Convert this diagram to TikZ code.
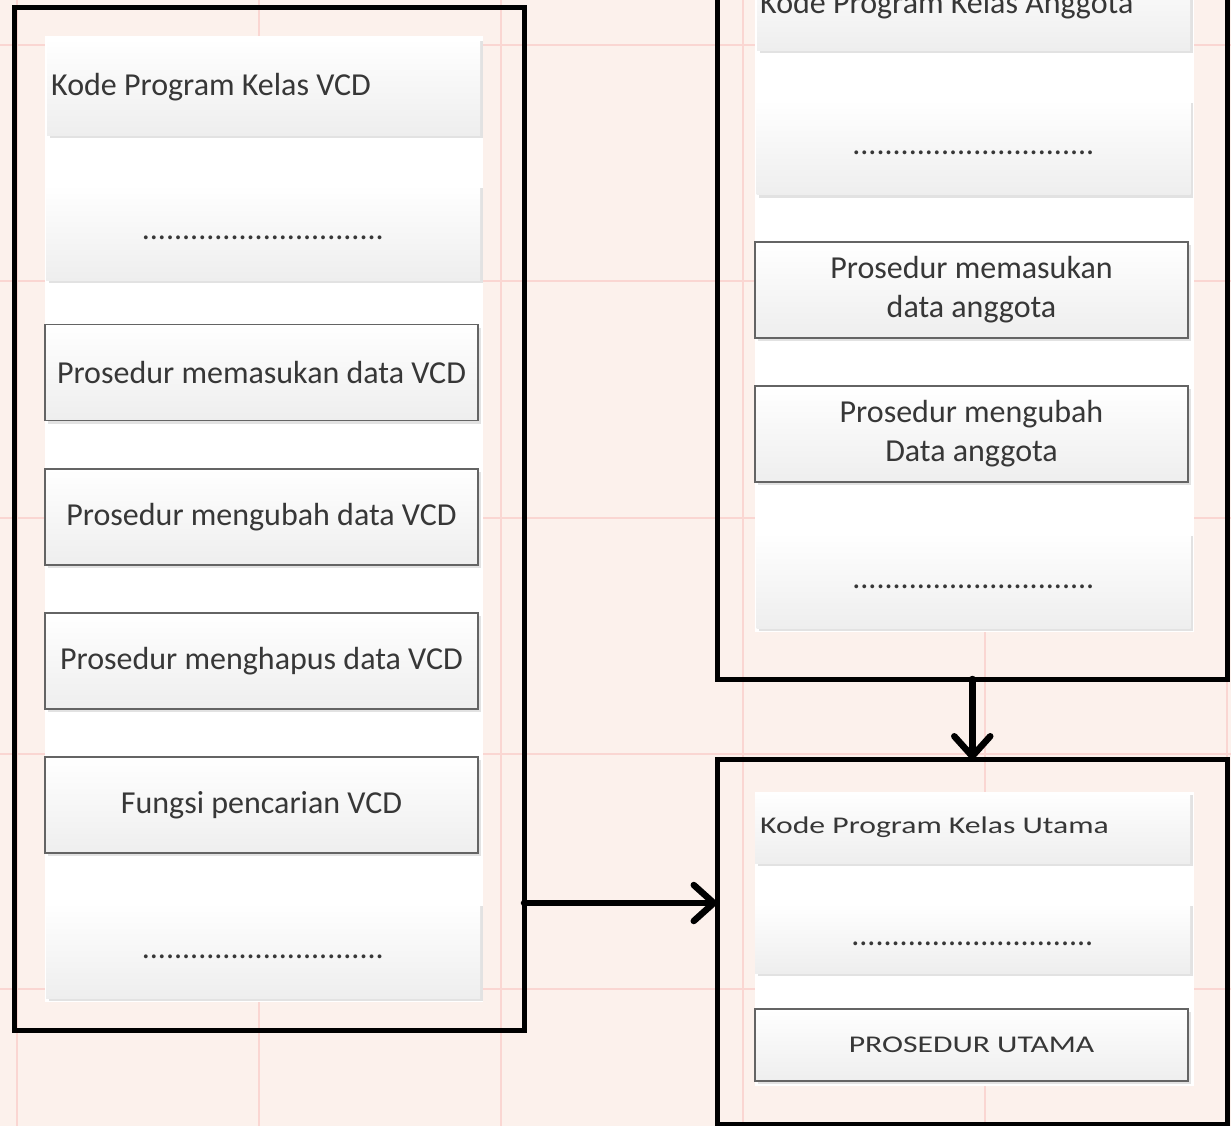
\documentclass[tikz,border=0pt]{standalone}
\usepackage{fontspec}
\usepackage{graphicx}
\setmainfont{Carlito}
\usetikzlibrary{arrows.meta,shadows}
\definecolor{bg}{RGB}{252,241,236}
\definecolor{gridc}{RGB}{250,214,210}
\definecolor{txt}{RGB}{55,55,55}
\definecolor{bord}{RGB}{100,100,100}
\definecolor{shadec}{RGB}{238,238,238}
\definecolor{shadowc}{RGB}{226,226,226}
\tikzset{
  outerbox/.style={rectangle, draw=black, line width=5pt, inner sep=0pt, outer sep=0pt},
  panel/.style={fill=white, draw=none},
  boxbase/.style={rectangle, top color=white, bottom color=shadec, text=txt,
    general shadow={fill=shadowc, shadow xshift=2.5pt, shadow yshift=-3pt}},
  hdrbox/.style={boxbase, draw=none, minimum height=97pt, align=flush left,
    text width=425pt, inner xsep=4pt, font=\fontsize{32}{39}\selectfont},
  dotbox/.style={boxbase, draw=none, minimum width=434pt, minimum height=95pt,
    inner sep=0pt, text height=15pt, text depth=0pt, font=\fontsize{32}{39}\selectfont},
  procbox/.style={boxbase, draw=bord, line width=1.4pt, minimum width=433pt,
    minimum height=96pt, align=center, inner sep=0pt, font=\fontsize{32}{39}\selectfont},
  smallbox/.style={boxbase, inner sep=0pt, font=\fontsize{24}{28}\selectfont},
  conn/.style={line width=6.5pt, line cap=round,
    -{Straight Barb[length=20pt, width=36pt, line cap=round, line join=round]}},
}
\newcommand{\dotrow}{..............................}
\begin{document}
\begin{tikzpicture}[x=1pt, y=-1pt]
  \clip (0,0) rectangle (1231,1126);
  \fill[bg] (0,0) rectangle (1231,1126);
  % grid
  \foreach \gx in {17,259,501,743,985,1227} \draw[gridc, line width=2pt] (\gx,0) -- (\gx,1126);
  \foreach \gy in {45,281,518,754,989} \draw[gridc, line width=2pt] (0,\gy) -- (1231,\gy);

  % ---------------- left: VCD ----------------
  \node[outerbox, anchor=north west, minimum width=510pt, minimum height=1023pt] (vcd) at (14,7.5) {};
  \fill[panel] (45,36) rectangle (483,1002);
  \node[hdrbox, anchor=north west] (vcdh) at (47,38) {Kode Program Kelas VCD};
  \node[dotbox] (vcdd1) at (263,232.5) {\dotrow};
  \node[procbox] (vcdp1) at (261.5,372.5) {Prosedur memasukan data VCD};
  \node[procbox] (vcdp2) at (261.5,517) {Prosedur mengubah data VCD};
  \node[procbox] (vcdp3) at (261.5,661) {Prosedur menghapus data VCD};
  \node[procbox] (vcdp4) at (261.5,805) {Fungsi pencarian VCD};
  \node[dotbox] (vcdd2) at (263,950.5) {\dotrow};

  % ---------------- right top: Anggota ----------------
  \node[outerbox, anchor=north west, minimum width=510.5pt, minimum height=739pt] (ang) at (717,-60) {};
  \fill[panel] (755,-50) rectangle (1194,632);
  \node[hdrbox, anchor=north west, inner xsep=3pt, text width=427pt, minimum height=91pt] (angh) at (757,-41) {Kode Program Kelas Anggota};
  \node[dotbox] (angd1) at (973.5,147.5) {\dotrow};
  \node[procbox] (angp1) at (971.5,290) {Prosedur memasukan\\data anggota};
  \node[procbox] (angp2) at (971.5,434) {Prosedur mengubah\\Data anggota};
  \node[dotbox] (angd2) at (973.5,580.5) {\dotrow};

  % ---------------- right bottom: Utama ----------------
  \node[outerbox, anchor=north west, minimum width=510.5pt, minimum height=365pt] (uta) at (717,759.5) {};
  \fill[panel] (755,792) rectangle (1194,1086);
  \node[smallbox, draw=none, anchor=north west, minimum width=435pt, minimum height=71pt,
        text width=425pt, inner xsep=5pt, align=flush left] (utah) at (755,792)
        {\scalebox{1.32}[1]{Kode Program Kelas Utama}};
  \node[dotbox, minimum width=435pt, minimum height=70pt] (utad) at (972.5,938)
        {\dotrow};
  \node[smallbox, draw=bord, line width=1.4pt, minimum width=433pt, minimum height=72pt] (utap) at (971.5,1045)
        {\scalebox{1.32}[1]{PROSEDUR UTAMA}};

  % ---------------- connectors ----------------
  \coordinate (hy) at (0,903);
  \draw[conn] (vcd.east |- hy) -- (uta.west |- hy);
  \draw[conn] (ang.south) -- (uta.north);
\end{tikzpicture}
\end{document}
